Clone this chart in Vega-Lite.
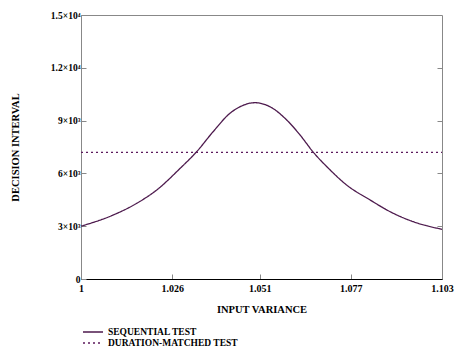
{
  "$schema": "https://vega.github.io/schema/vega-lite/v6.json",
  "width": 361,
  "height": 264,
  "autosize": {"type": "none"},
  "padding": {"left": 81, "top": 15, "right": 16, "bottom": 75},
  "background": "white",
  "config": {
    "font": "Liberation Serif",
    "view": {"stroke": "#888888", "strokeWidth": 1},
    "axis": {"grid": false, "labelFont": "Liberation Serif", "titleFont": "Liberation Serif", "labelFontWeight": "bold", "titleFontWeight": "bold", "labelColor": "black", "titleColor": "black"}
  },
  "data": {
    "values": [
      {"x": 1.0, "y": 3000, "series": "SEQUENTIAL TEST"},
      {"x": 1.0092, "y": 3636, "series": "SEQUENTIAL TEST"},
      {"x": 1.0159, "y": 4300, "series": "SEQUENTIAL TEST"},
      {"x": 1.0216, "y": 5057, "series": "SEQUENTIAL TEST"},
      {"x": 1.0283, "y": 6290, "series": "SEQUENTIAL TEST"},
      {"x": 1.033, "y": 7233, "series": "SEQUENTIAL TEST"},
      {"x": 1.0377, "y": 8370, "series": "SEQUENTIAL TEST"},
      {"x": 1.0425, "y": 9414, "series": "SEQUENTIAL TEST"},
      {"x": 1.0454, "y": 9790, "series": "SEQUENTIAL TEST"},
      {"x": 1.0496, "y": 10017, "series": "SEQUENTIAL TEST"},
      {"x": 1.0539, "y": 9790, "series": "SEQUENTIAL TEST"},
      {"x": 1.0587, "y": 9034, "series": "SEQUENTIAL TEST"},
      {"x": 1.0625, "y": 8182, "series": "SEQUENTIAL TEST"},
      {"x": 1.0663, "y": 7199, "series": "SEQUENTIAL TEST"},
      {"x": 1.0706, "y": 6290, "series": "SEQUENTIAL TEST"},
      {"x": 1.0758, "y": 5340, "series": "SEQUENTIAL TEST"},
      {"x": 1.0825, "y": 4488, "series": "SEQUENTIAL TEST"},
      {"x": 1.0882, "y": 3824, "series": "SEQUENTIAL TEST"},
      {"x": 1.0948, "y": 3256, "series": "SEQUENTIAL TEST"},
      {"x": 1.103, "y": 2824, "series": "SEQUENTIAL TEST"},
      {"x": 1.0, "y": 7200, "series": "DURATION-MATCHED TEST"},
      {"x": 1.103, "y": 7200, "series": "DURATION-MATCHED TEST"}
    ]
  },
  "layer": [
    {
      "mark": {"type": "line", "strokeWidth": 1.3, "interpolate": "monotone"},
      "encoding": {
        "x": {"field": "x", "type": "quantitative", "scale": {"domain": [1, 1.103], "nice": false, "zero": false},
          "axis": {"values": [1, 1.026, 1.051, 1.077, 1.103], "labelExpr": "format(datum.value, '.3~f')", "title": "INPUT VARIANCE", "titleFontSize": 10.5, "labelFontSize": 10, "tickSize": -5, "tickColor": "#888888", "domainColor": "black", "labelPadding": 9, "titlePadding": 11, "labelFlush": false}},
        "y": {"field": "y", "type": "quantitative", "scale": {"domain": [0, 15000], "nice": false},
          "axis": {"values": [0, 3000, 6000, 9000, 12000, 15000], "labelExpr": "datum.value == 0 ? '0' : datum.value < 10000 ? (datum.value/1000) + '×10³' : (datum.value/10000) + '×10⁴'", "title": "DECISION INTERVAL", "titleFontSize": 10.5, "labelFontSize": 9.5, "tickSize": -5, "tickColor": "#888888", "domainColor": "#888888", "labelPadding": 6, "titlePadding": 30, "labelFlush": false}},
        "color": {"field": "series", "type": "nominal", "sort": ["SEQUENTIAL TEST", "DURATION-MATCHED TEST"],
          "scale": {"domain": ["SEQUENTIAL TEST", "DURATION-MATCHED TEST"], "range": ["#4d1a4d", "#5c1a5c"]},
          "legend": {"orient": "none", "legendX": 6, "legendY": 311, "title": null, "symbolType": "M-2,0H2", "symbolSize": 100, "symbolFillColor": "transparent", "symbolStrokeWidth": 1.5, "labelOffset": 9, "labelFont": "Liberation Serif", "labelFontWeight": "bold", "labelFontSize": 9.5, "labelColor": "black", "rowPadding": 0}},
        "strokeDash": {"field": "series", "type": "nominal", "sort": ["SEQUENTIAL TEST", "DURATION-MATCHED TEST"],
          "scale": {"domain": ["SEQUENTIAL TEST", "DURATION-MATCHED TEST"], "range": [[1, 0], [2, 3]]}, "legend": null}
      }
    },
    {
      "mark": {"type": "rule", "opacity": 0},
      "encoding": {
        "y": {"field": "y", "type": "quantitative",
          "axis": {"orient": "right", "values": [3000, 6000, 9000, 12000], "labels": false, "title": null, "domain": false, "tickSize": -5, "tickColor": "#888888"}}
      }
    }
  ],
  "resolve": {"axis": {"y": "independent"}}
}
